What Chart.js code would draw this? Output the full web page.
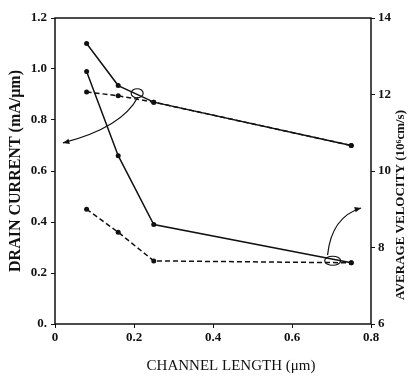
<!DOCTYPE html>
<html>
<head>
<meta charset="utf-8">
<script src="https://cdn.jsdelivr.net/npm/chart.js@4/dist/chart.umd.min.js"></script>
<style>
  html, body { margin: 0; padding: 0; background: #fff; }
  #wrap { width: 414px; height: 380px; }
</style>
</head>
<body>
<div id="wrap"><canvas id="chart" width="414" height="380"></canvas></div>
<script>
// channel length (um)
var channelLength = [0.08, 0.16, 0.25, 0.75];
// drain current (mA/um), left axis
var currentSolid = [1.1, 0.935, 0.87, 0.70];
var currentDashed = [0.91, 0.895, 0.87, 0.70];
// average velocity (10^6 cm/s), right axis
var velocitySolid = [12.6, 10.4, 8.6, 7.6];
var velocityDashed = [9.0, 8.4, 7.65, 7.6];

var xTicks = [0, 0.2, 0.4, 0.6, 0.8];
var currentTicks = [0, 0.2, 0.4, 0.6, 0.8, 1.0, 1.2];
var velocityTicks = [6, 8, 10, 12, 14];

function pts(xs, ys) {
  return xs.map(function (x, i) { return { x: x, y: ys[i] }; });
}

var ink = "#111";
var serif = "'Liberation Serif', 'DejaVu Serif', serif";

// frame, hand-drawn arrows, x title and right title
var extras = {
  id: "extras",
  afterDraw: function (chart) {
    var c = chart.ctx, a = chart.chartArea;
    var xs = chart.scales.x, ys = chart.scales.y;
    function px(x) { return xs.getPixelForValue(x); }
    function py(y) { return ys.getPixelForValue(y); }
    c.save();
    c.strokeStyle = ink;
    c.lineWidth = 1.5;
    c.strokeRect(a.left, a.top, a.right - a.left, a.bottom - a.top);

    c.lineWidth = 1.2;
    // upper loop + arrow to the left axis
    c.beginPath();
    c.ellipse(px(0.208), py(0.905), 6, 4.5, 0, 0, Math.PI * 2);
    c.stroke();
    c.beginPath();
    c.moveTo(px(0.21), py(0.89));
    c.quadraticCurveTo(px(0.17), py(0.77), px(0.02), py(0.71));
    c.stroke();
    arrowHead(c, px(0.06), py(0.725), px(0.02), py(0.71));

    // lower loop + arrow to the right axis
    c.beginPath();
    c.ellipse(px(0.703), py(0.248), 8, 4.5, 0, 0, Math.PI * 2);
    c.stroke();
    c.beginPath();
    c.moveTo(px(0.69), py(0.27));
    c.quadraticCurveTo(px(0.70), py(0.42), px(0.775), py(0.455));
    c.stroke();
    arrowHead(c, px(0.74), py(0.44), px(0.775), py(0.455));

    c.fillStyle = ink;
    c.textAlign = "center";
    c.textBaseline = "middle";
    // x title, a little right of centre as in the scan
    c.font = "15px " + serif;
    c.fillText("CHANNEL LENGTH (\u03bcm)", (a.left + a.right) / 2 + 18, 366);

    // right axis title, reading bottom to top
    c.font = "bold 13px " + serif;
    c.translate(401, (a.top + a.bottom) / 2 + 34);
    c.rotate(-Math.PI / 2);
    c.fillText("AVERAGE VELOCITY (10\u2076cm/s)", 0, 0);
    c.restore();
  }
};

function arrowHead(c, x0, y0, x1, y1) {
  var ang = Math.atan2(y1 - y0, x1 - x0), L = 7;
  c.beginPath();
  c.moveTo(x1, y1);
  c.lineTo(x1 - L * Math.cos(ang - 0.4), y1 - L * Math.sin(ang - 0.4));
  c.lineTo(x1 - L * Math.cos(ang + 0.4), y1 - L * Math.sin(ang + 0.4));
  c.closePath();
  c.fillStyle = ink;
  c.fill();
}

function line(data, axis, dashed) {
  return {
    data: data,
    yAxisID: axis,
    showLine: true,
    borderColor: ink,
    backgroundColor: ink,
    borderWidth: 1.5,
    borderDash: dashed ? [5, 3] : [],
    pointRadius: 2.5,
    pointBorderWidth: 0,
    tension: 0
  };
}

new Chart(document.getElementById("chart").getContext("2d"), {
  type: "scatter",
  data: {
    datasets: [
      line(pts(channelLength, currentSolid), "y", false),
      line(pts(channelLength, currentDashed), "y", true),
      line(pts(channelLength, velocitySolid), "y2", false),
      line(pts(channelLength, velocityDashed), "y2", true)
    ]
  },
  options: {
    responsive: false,
    animation: false,
    layout: { padding: { top: 18, left: 0, right: 0, bottom: 0 } },
    plugins: { legend: { display: false }, tooltip: { enabled: false } },
    scales: {
      x: {
        type: "linear",
        min: 0, max: 0.8,
        afterBuildTicks: function (s) { s.ticks = xTicks.map(function (v) { return { value: v }; }); },
        afterFit: function (s) { s.height = 56; },
        grid: { drawOnChartArea: false, tickLength: 4, color: ink },
        border: { display: false },
        ticks: {
          color: ink, padding: 2,
          font: { family: serif, size: 13, weight: "bold" },
          callback: function (v) { return v === 0 ? "0" : v.toFixed(1); }
        }
      },
      y: {
        position: "left",
        min: 0, max: 1.2,
        afterBuildTicks: function (s) { s.ticks = currentTicks.map(function (v) { return { value: v }; }); },
        afterFit: function (s) { s.width = 55; },
        grid: { drawOnChartArea: false, tickLength: 4, color: ink },
        border: { display: false },
        ticks: {
          color: ink, padding: 4,
          font: { family: serif, size: 13, weight: "bold" },
          callback: function (v) { return v === 0 ? "0." : v.toFixed(1); }
        },
        title: {
          display: true, text: "DRAIN CURRENT (mA/\u03bcm)", color: ink,
          font: { family: serif, size: 16, weight: "bold" }, padding: { top: 6, bottom: 0 }
        }
      },
      y2: {
        position: "right",
        min: 6, max: 14,
        afterBuildTicks: function (s) { s.ticks = velocityTicks.map(function (v) { return { value: v }; }); },
        afterFit: function (s) { s.width = 43; },
        grid: { drawOnChartArea: false, tickLength: 4, color: ink },
        border: { display: false },
        ticks: {
          color: ink, padding: 3,
          font: { family: serif, size: 13, weight: "bold" }
        }
      }
    }
  },
  plugins: [extras]
});
</script>
</body>
</html>
